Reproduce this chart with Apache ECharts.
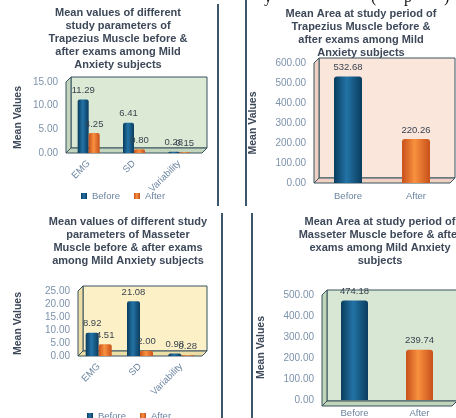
<!DOCTYPE html>
<html>
<head>
<meta charset="utf-8">
<script src="https://cdn.jsdelivr.net/npm/echarts@6/dist/echarts.min.js"></script>
<style>
  html, body { margin: 0; padding: 0; background: #fff; }
  #chart { width: 456px; height: 418px; }
</style>
</head>
<body>
<div id="chart"></div>
<script>
// data
var paramCategories = ['EMG', 'SD', 'Variability'];
var trapBefore = [11.29, 6.41, 0.28];
var trapAfter = [4.25, 0.80, 0.15];
var massBefore = [8.92, 21.08, 0.98];
var massAfter = [4.51, 2.00, 0.28];
var periodCategories = ['Before', 'After'];
var trapArea = [532.68, 220.26];
var massArea = [474.18, 239.74];
var yMax = [15, 600, 25, 500];
var yStep = [5, 100, 5, 100];

var FONT = 'Liberation Sans';
var titleColor = '#3d4859';
var labelColor = '#7d92ab';

// grids (back wall of the fake 3d box)
var G = [
    { left: 66, top: 82, width: 136, height: 71 },
    { left: 314, top: 63, width: 136, height: 120 },
    { left: 78, top: 291, width: 124, height: 65 },
    { left: 322, top: 295, width: 130, height: 111 }
];
var wallColors = [
    ['#dbe9d5', '#c3d6bd'],
    ['#fbe6dc', '#efd1c4'],
    ['#fcf1c6', '#ecdea4'],
    ['#d8e7d3', '#c0d4ba']
];
var D = 5;

function grad(c0, c1) {
    return new echarts.graphic.LinearGradient(0, 0, 1, 0, [
        { offset: 0, color: c0 },
        { offset: 0.45, color: c1 },
        { offset: 1, color: c0 }
    ]);
}
var blue = grad('#0a3c5e', '#2373a6');
var orange = grad('#c8501a', '#f8913f');

function box(i) {
    var g = G[i], c = wallColors[i];
    var l = g.left, t = g.top, r = g.left + g.width, b = g.top + g.height;
    var st = { stroke: '#38535f', lineWidth: 1 };
    return [
        { type: 'rect', z: -10, shape: { x: l + D, y: t - D, width: g.width, height: g.height },
          style: Object.assign({ fill: c[0] }, st) },
        { type: 'polygon', z: -9, shape: { points: [[l, t], [l + D, t - D], [l + D, b - D], [l, b]] },
          style: Object.assign({ fill: c[1] }, st) },
        { type: 'polygon', z: -9, shape: { points: [[l, b], [l + D, b - D], [r + D, b - D], [r, b]] },
          style: Object.assign({ fill: c[1] }, st) }
    ];
}

function title(x, y, text, lh) {
    return { type: 'text', style: { x: x, y: y, text: text, align: 'center', fill: titleColor,
             font: 'bold 11px "' + FONT + '"', lineHeight: lh } };
}

function sep(x, y0, y1) {
    return { type: 'line', shape: { x1: x, y1: y0, x2: x, y2: y1 },
             style: { stroke: '#3c566c', lineWidth: 2 } };
}

function frag(x, ch) {
    return { type: 'text', style: { x: x, y: 6, text: ch, verticalAlign: 'bottom',
             fill: '#111', font: '16px "Liberation Serif"' } };
}

var graphics = [].concat(box(0), box(1), box(2), box(3), [
    title(118, 7, 'Mean values of different\nstudy parameters of\nTrapezius Muscle before &\nafter exams among Mild\nAnxiety subjects', 12.8),
    title(361, 8, 'Mean Area at study period of\nTrapezius Muscle before &\nafter exams among Mild\nAnxiety subjects', 12.8),
    title(128, 215, 'Mean values of different study\nparameters of Masseter\nMuscle before & after exams\namong Mild Anxiety subjects', 13),
    title(380, 215, 'Mean Area at study period of\nMasseter Muscle before & after\nexams among Mild Anxiety\nsubjects', 13),
    sep(218, 4, 206), sep(246, 0, 206), sep(222, 213, 418), sep(252, 213, 418),
    frag(264, 'y'), frag(371, '('), frag(404, 'p'), frag(444, ')')
]);

var grids = G.map(function (g) {
    return { left: g.left, top: g.top, width: g.width, height: g.height, containLabel: false };
});

function xAxis(i, cats, rotated) {
    return {
        type: 'category', gridIndex: i, data: cats,
        axisLine: { show: false }, axisTick: { show: false },
        axisLabel: {
            color: '#6b84a0', fontSize: 9.5, fontFamily: FONT, interval: 0,
            rotate: rotated ? 45 : 0, margin: rotated ? 9 : 8
        }
    };
}
function yAxis(i, gap) {
    return {
        type: 'value', gridIndex: i, min: 0, max: yMax[i], interval: yStep[i],
        name: 'Mean Values', nameLocation: 'middle', nameGap: gap,
        nameTextStyle: { color: titleColor, fontSize: 10.5, fontWeight: 'bold', fontFamily: FONT },
        axisLine: { show: false }, axisTick: { show: false }, splitLine: { show: false },
        axisLabel: { color: labelColor, fontSize: 10, fontFamily: FONT, margin: 8,
                     formatter: function (v) { return v.toFixed(2); } }
    };
}

var valLabel = {
    show: true, position: 'top', distance: 4, color: '#3b4450', fontSize: 9.5, fontFamily: FONT,
    formatter: function (p) { return p.value.toFixed(2); }
};

function pairSeries(i, name, values, color, w) {
    return { type: 'bar', name: name, xAxisIndex: i, yAxisIndex: i, data: values,
             barWidth: w, barGap: '0%', itemStyle: { color: color, borderRadius: [2, 2, 0, 0] },
             label: valLabel };
}
function areaSeries(i, name, values, w) {
    return { type: 'bar', name: name, xAxisIndex: i, yAxisIndex: i, data: values, barWidth: w,
             itemStyle: { borderRadius: [3, 3, 0, 0],
                          color: function (p) { return p.dataIndex === 0 ? blue : orange; } },
             label: valLabel };
}

var legendBase = {
    data: ['Before', 'After'], icon: 'rect', itemWidth: 6, itemHeight: 6, itemGap: 14,
    textStyle: { color: '#6b84a0', fontSize: 9.5, fontFamily: FONT }
};

var chart = echarts.init(document.getElementById('chart'));
chart.setOption({
    animation: false,
    textStyle: { fontFamily: FONT },
    graphic: graphics,
    legend: [
        Object.assign({ left: 76, top: 186 }, legendBase),
        Object.assign({ left: 82, top: 406 }, legendBase)
    ],
    grid: grids,
    xAxis: [
        xAxis(0, paramCategories, true),
        xAxis(1, periodCategories, false),
        xAxis(2, paramCategories, true),
        xAxis(3, periodCategories, false)
    ],
    yAxis: [yAxis(0, 42), yAxis(1, 55), yAxis(2, 54), yAxis(3, 55)],
    series: [
        pairSeries(0, 'Before', trapBefore, blue, 11),
        pairSeries(0, 'After', trapAfter, orange, 11),
        areaSeries(1, 'Trapezius Area', trapArea, 28),
        pairSeries(2, 'Before', massBefore, blue, 13),
        pairSeries(2, 'After', massAfter, orange, 13),
        areaSeries(3, 'Masseter Area', massArea, 27)
    ]
});
</script>
</body>
</html>
